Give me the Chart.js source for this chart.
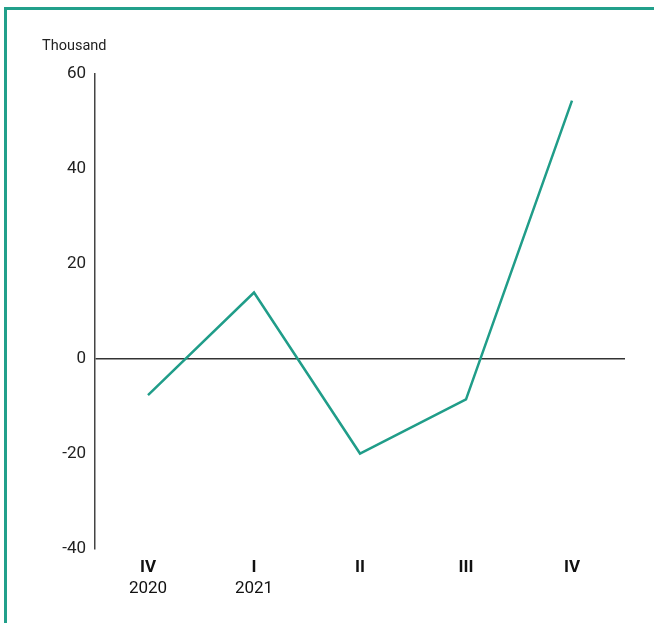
<!DOCTYPE html>
<html>
<head>
<meta charset="utf-8">
<script src="https://cdn.jsdelivr.net/npm/chart.js@4.4.1/dist/chart.umd.min.js"></script>
<style>
    html, body { margin: 0; padding: 0; background: #fff; }
    #wrap { position: relative; width: 654px; height: 623px; overflow: hidden; }
    #frame {
        position: absolute; left: 4px; top: 7px; right: -10px; bottom: -10px;
        border-left: 3px solid #22a08b; border-top: 3px solid #22a08b;
    }
    canvas { position: absolute; left: 0; top: 0; }
</style>
</head>
<body>
<div id="wrap">
    <div id="frame"></div>
    <canvas id="chart" width="654" height="623"></canvas>
</div>
<script>
// Quarterly change, thousand
const quarters = ['IV', 'I', 'II', 'III', 'IV'];
const years = ['2020', '2021', '', '', ''];
const values = [-7.6, 14.0, -19.9, -8.5, 54.4];
const yTicks = [-40, -20, 0, 20, 40, 60];

const FONT = 'Roboto, "DejaVu Sans", sans-serif';

// small label above the y axis
const unitLabel = {
    id: 'unitLabel',
    afterDraw(chart) {
        const ctx = chart.ctx;
        ctx.save();
        ctx.font = '14.5px ' + FONT;
        ctx.fillStyle = '#222';
        ctx.textBaseline = 'middle';
        ctx.textAlign = 'left';
        ctx.fillText('Thousand', 42, 46);
        ctx.restore();
    }
};

const ctx = document.getElementById('chart').getContext('2d');
new Chart(ctx, {
    type: 'line',
    data: {
        labels: quarters,
        datasets: [{
            data: values,
            borderColor: '#209d89',
            borderWidth: 2.5,
            pointRadius: 0,
            tension: 0,
            fill: false
        }]
    },
    options: {
        responsive: false,
        animation: false,
        layout: { padding: { top: 74, right: 29, bottom: 22, left: 0 } },
        plugins: { legend: { display: false }, tooltip: { enabled: false } },
        scales: {
            x: {
                offset: true,
                grid: { display: false, drawTicks: false },
                border: { display: false },
                ticks: { color: '#111', padding: 9, font: { family: FONT, size: 17, weight: 'bold' } },
                afterFit(scale) { scale.height = 30; }
            },
            x2: {
                type: 'category',
                labels: years,
                position: 'bottom',
                offset: true,
                grid: { display: false, drawTicks: false },
                border: { display: false },
                ticks: { color: '#111', padding: 0, font: { family: FONT, size: 17 } },
                afterFit(scale) { scale.height = 22; }
            },
            y: {
                min: -40,
                max: 60,
                afterBuildTicks(scale) { scale.ticks = yTicks.map(v => ({ value: v })); },
                grid: {
                    drawTicks: false,
                    lineWidth: 1.5,
                    color: c => (c.tick && c.tick.value === 0 ? '#333' : 'transparent')
                },
                border: { display: true, color: '#444', width: 1.5 },
                ticks: { color: '#222', padding: 9, font: { family: FONT, size: 17 } },
                afterFit(scale) { scale.width = 95; }
            }
        }
    },
    plugins: [unitLabel]
});
</script>
</body>
</html>
